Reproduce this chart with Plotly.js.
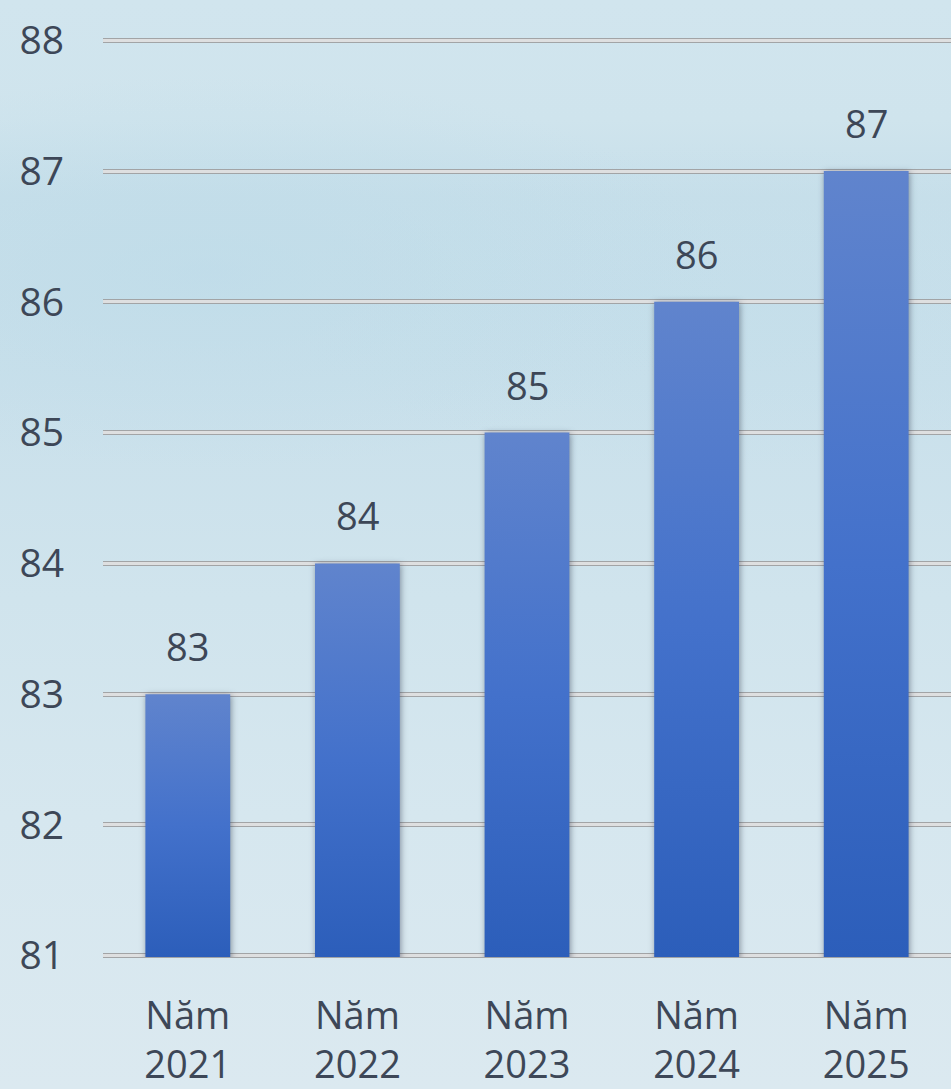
<!DOCTYPE html>
<html>
<head>
<meta charset="utf-8">
<script src="https://cdn.plot.ly/plotly-3.0.1.min.js"></script>
<style>
  html, body { margin:0; padding:0; width:951px; height:1089px; overflow:hidden; }
  body {
    background:
      radial-gradient(ellipse 55% 18% at 22% 25%, rgba(186,218,232,0.5), rgba(186,218,232,0) 100%),
      radial-gradient(ellipse 45% 15% at 75% 28%, rgba(190,220,233,0.35), rgba(190,220,233,0) 100%),
      linear-gradient(to bottom, #d1e5ee 0%, #cfe4ed 11%, #c7dfea 18%, #c9e0eb 35%, #d0e4ed 55%, #d6e7ef 75%, #dbe9f0 100%);
  }
  #chart { width:951px; height:1089px; }
</style>
</head>
<body>
<div id="chart"></div>
<script>
const categories = ["Năm<br>2021", "Năm<br>2022", "Năm<br>2023", "Năm<br>2024", "Năm<br>2025"];
const values = [83, 84, 85, 86, 87];
const yTicks = [81, 82, 83, 84, 85, 86, 87, 88];

const textColor = "#3d4757";
const fontFam = "Open Sans, Liberation Sans, sans-serif";

const traces = [
  {
    type: "bar",
    x: categories,
    y: values,
    marker: { color: "#3f6cc6", line: { width: 0 } },
    hoverinfo: "skip"
  },
  {
    type: "scatter",
    mode: "markers",
    x: categories,
    y: values,
    yaxis: "y2",
    marker: { opacity: 0, size: 1 },
    hoverinfo: "skip",
    showlegend: false
  }
];

const annotations = categories.map((c, i) => ({
  x: c, y: values[i], xref: "x", yref: "y",
  text: String(values[i]),
  showarrow: false, yanchor: "bottom", yshift: 20,
  font: { family: fontFam, size: 38, color: textColor }
}));

const yRange = [80.99, 88.01];

const layout = {
  width: 951, height: 1089,
  paper_bgcolor: "rgba(0,0,0,0)",
  plot_bgcolor: "rgba(0,0,0,0)",
  margin: { l: 103, r: 0, t: 39, b: 132, pad: 0 },
  showlegend: false,
  bargap: 0.5,
  font: { family: fontFam, color: textColor },
  xaxis: {
    type: "category",
    showgrid: false, zeroline: false, showline: false,
    ticks: "", ticklabelstandoff: 33,
    tickfont: { family: fontFam, size: 38, color: textColor }
  },
  yaxis: {
    range: yRange,
    tickvals: yTicks,
    ticktext: yTicks.map(String),
    showgrid: true, gridcolor: "#a2a4a6", gridwidth: 5,
    zeroline: false, showline: false, ticks: "",
    ticklabelstandoff: 38,
    tickfont: { family: fontFam, size: 39, color: textColor }
  },
  yaxis2: {
    overlaying: "y", side: "left",
    range: yRange,
    tickvals: yTicks,
    showgrid: true, gridcolor: "#dedfe0", gridwidth: 3,
    zeroline: false, showline: false, ticks: "",
    showticklabels: false
  },
  annotations: annotations
};

function applyGradient(gd) {
  const ns = "http://www.w3.org/2000/svg";
  const svg = gd.querySelector("svg.main-svg");
  const defs = document.createElementNS(ns, "defs");
  svg.insertBefore(defs, svg.firstChild);
  const plotBottom = gd._fullLayout.yaxis._length;
  const stops = [["0", "#6084cd"], ["0.5", "#4371cb"], ["1", "#2c5eba"]];
  gd.querySelectorAll("g.barlayer path").forEach((p, i) => {
    const bb = p.getBBox();
    const id = "barGrad" + i;
    const grad = document.createElementNS(ns, "linearGradient");
    grad.setAttribute("id", id);
    grad.setAttribute("gradientUnits", "userSpaceOnUse");
    grad.setAttribute("x1", bb.x); grad.setAttribute("y1", bb.y);
    grad.setAttribute("x2", bb.x); grad.setAttribute("y2", plotBottom);
    stops.forEach(([o, c]) => {
      const s = document.createElementNS(ns, "stop");
      s.setAttribute("offset", o);
      s.setAttribute("stop-color", c);
      grad.appendChild(s);
    });
    defs.appendChild(grad);
    p.style.setProperty("fill", "url(#" + id + ")", "important");
    p.style.setProperty("filter", "drop-shadow(1px 1px 3px rgba(40,50,70,0.5))");
  });
}

Plotly.newPlot("chart", traces, layout, { displayModeBar: false, staticPlot: true })
  .then(gd => applyGradient(gd));
</script>
</body>
</html>
